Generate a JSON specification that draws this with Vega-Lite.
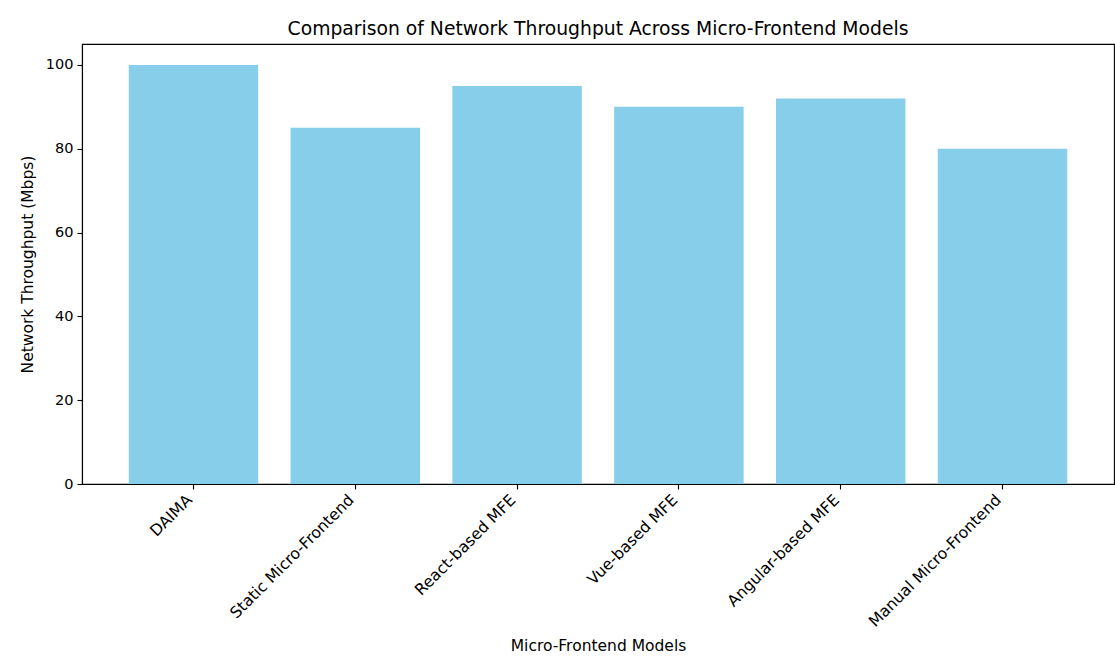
{
  "$schema": "https://vega.github.io/schema/vega-lite/v6.json",
  "width": 1032,
  "height": 440,
  "autosize": {"type": "none"},
  "padding": {"left": 82, "top": 44, "right": 1, "bottom": 179},
  "background": "white",
  "title": {
    "text": "Comparison of Network Throughput Across Micro-Frontend Models",
    "font": "DejaVu Sans",
    "fontSize": 18.75,
    "fontWeight": "normal",
    "color": "black",
    "offset": 5,
    "anchor": "middle"
  },
  "data": {
    "values": [
      {"model": "DAIMA", "throughput": 100},
      {"model": "Static Micro-Frontend", "throughput": 85},
      {"model": "React-based MFE", "throughput": 95},
      {"model": "Vue-based MFE", "throughput": 90},
      {"model": "Angular-based MFE", "throughput": 92},
      {"model": "Manual Micro-Frontend", "throughput": 80}
    ]
  },
  "mark": {"type": "bar", "color": "#87CEEB"},
  "encoding": {
    "x": {
      "field": "model",
      "type": "nominal",
      "sort": null,
      "scale": {"paddingInner": 0.2, "paddingOuter": 0.289},
      "axis": {
        "title": "Micro-Frontend Models",
        "labelAngle": -45,
        "labelAlign": "right",
        "labelBaseline": "top",
        "labelOffset": -9,
        "labelPadding": 3,
        "labelFontSize": 15.7,
        "titlePadding": 9
      }
    },
    "y": {
      "field": "throughput",
      "type": "quantitative",
      "scale": {"domain": [0, 105], "nice": false},
      "axis": {
        "title": "Network Throughput (Mbps)",
        "values": [0, 20, 40, 60, 80, 100],
        "grid": false,
        "labelFontSize": 14.5,
        "titlePadding": 10
      }
    }
  },
  "config": {
    "font": "DejaVu Sans",
    "view": {"stroke": "black", "strokeWidth": 1.1},
    "axis": {
      "domainColor": "black",
      "domainWidth": 1.1,
      "tickColor": "black",
      "tickSize": 5,
      "tickWidth": 1.1,
      "labelColor": "black",
      "labelFont": "DejaVu Sans",
      "labelPadding": 4,
      "titleColor": "black",
      "titleFontSize": 15.5,
      "titleFont": "DejaVu Sans",
      "titleFontWeight": "normal",
      "labelOverlap": false,
      "labelLimit": 0
    }
  }
}
